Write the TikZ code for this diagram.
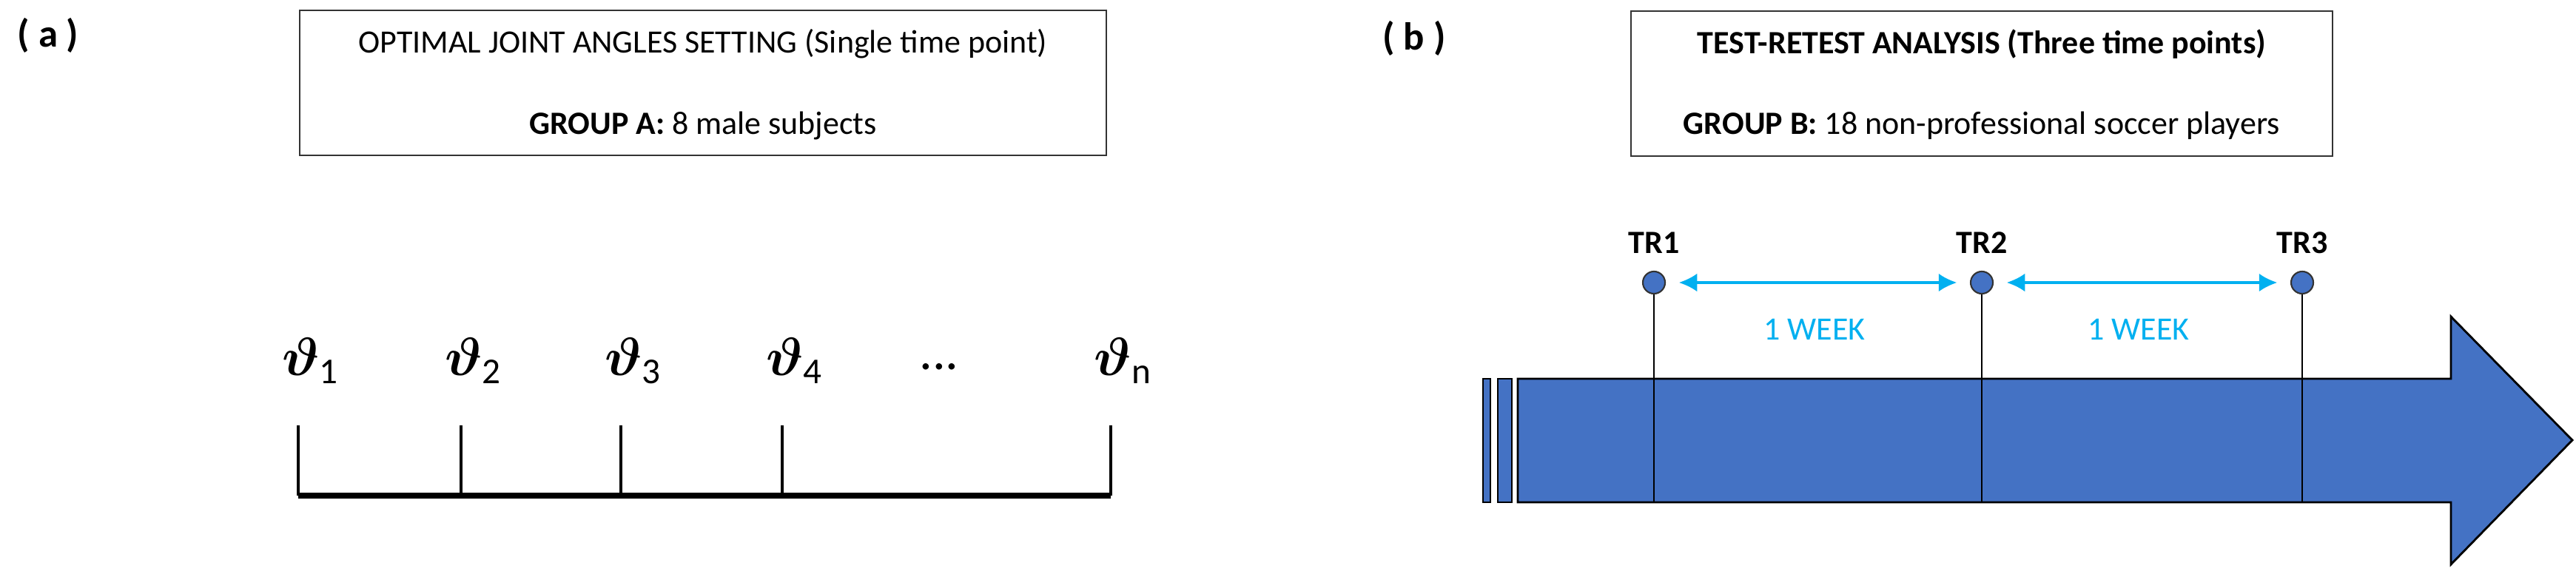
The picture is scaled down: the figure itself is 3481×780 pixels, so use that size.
\documentclass[tikz,border=0pt]{standalone}
\usepackage{fontspec}
\usepackage{amsmath}
\setmainfont{Carlito}
\usetikzlibrary{arrows.meta}
\definecolor{bblue}{HTML}{4472C4}
\definecolor{cyanw}{RGB}{0,176,240}
\begin{document}
\begin{tikzpicture}[x=0.01cm,y=-0.01cm,
  lab/.style={font=\fontsize{15}{18}\selectfont\bfseries},
  txt/.style={font=\fontsize{12.5}{15}\selectfont},
  box/.style={draw=black!80,line width=0.8pt},
  th/.style={font=\fontsize{20}{24}\selectfont},
  tick/.style={line width=1.2pt},
  dot/.style={circle,draw=black!80,fill=bblue,minimum size=0.3cm,inner sep=0pt,line width=0.6pt},
  trl/.style={font=\fontsize{12.5}{15}\selectfont\bfseries},
  wk/.style={font=\fontsize{12.5}{15}\selectfont,text=cyanw},
  cyarr/.style={cyanw,line width=1pt,{Latex[length=7pt,width=7pt]}-{Latex[length=7pt,width=7pt]},shorten <=5pt,shorten >=5pt}]
\useasboundingbox (0,0) rectangle (3481,780);
% panel a
\node[lab] (la) at (65,48) {( a )};
\draw[box] (405,14) rectangle (1495,210);
\node[txt] (a1) at (950,59) {OPTIMAL JOINT ANGLES SETTING (Single time point)};
\node[txt] (a2) at (950,170) {\textbf{GROUP A:} 8 male subjects};
\foreach \i/\x/\s in {1/403/1,2/623/2,3/839/3,4/1057/4,5/1501/n}{
  \node[th] (th\i) at (\x+17,488) {$\boldsymbol{\vartheta}_{\mathrm{\s}}$};
  \coordinate (t\i) at (\x,575);
  \coordinate (b\i) at (\x,670);
  \draw[tick] (t\i) -- (b\i);
}
\node[th] (dots) at (1269,496) {...};
\draw[line width=2pt] (b1) -- (b5);
% panel b
\node[lab] (lb) at (1911,52) {( b )};
\draw[box] (2204,15) rectangle (3152,211);
\node[txt] (bt1) at (2678,60) {\textbf{TEST-RETEST ANALYSIS (Three time points)}};
\node[txt] (bt2) at (2678,170) {\textbf{GROUP B:} 18 non-professional soccer players};
\draw[fill=bblue,draw=black,line width=0.8pt] (2004,512) rectangle (2014,679);
\draw[fill=bblue,draw=black,line width=0.8pt] (2024,512) rectangle (2043,679);
\draw[fill=bblue,draw=black,line width=0.8pt] (2051,512) -- (3312,512) -- (3312,428) -- (3476,595) -- (3312,763) -- (3312,679) -- (2051,679) -- cycle;
\foreach \i/\x in {1/2235,2/2678,3/3111}{
  \coordinate (v\i) at (\x,679);
  \draw[line width=0.5pt] (\x,382) -- (v\i);
  \node[dot] (c\i) at (\x,382) {};
  \node[trl] (tr\i) at (\x,328) {TR\i};
}
\draw[cyarr] (c1) -- (c2);
\draw[cyarr] (c2) -- (c3);
\node[wk] (w1) at (2452,445) {1 WEEK};
\node[wk] (w2) at (2890,445) {1 WEEK};
\end{tikzpicture}
\end{document}
